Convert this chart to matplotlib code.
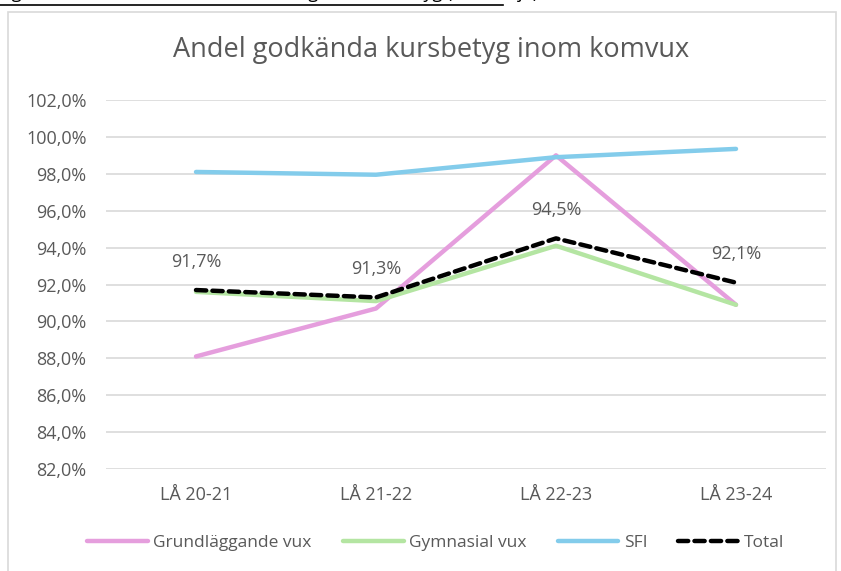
# Andel godkända kursbetyg inom komvux
import matplotlib
matplotlib.use("Agg")
import matplotlib.pyplot as plt
import matplotlib.patches as patches
from matplotlib.lines import Line2D
from matplotlib.ticker import FuncFormatter

plt.rcParams['font.family'] = ['Open Sans', 'DejaVu Sans']

# Data
years = ["LÅ 20-21", "LÅ 21-22", "LÅ 22-23", "LÅ 23-24"]
grund = [88.1, 90.7, 99.0, 90.9]
gymn = [91.6, 91.1, 94.1, 90.9]
sfi = [98.1, 97.95, 98.9, 99.35]
total = [91.7, 91.3, 94.5, 92.1]
total_labels = ["91,7%", "91,3%", "94,5%", "92,1%"]

col_grund = "#E59EDD"
col_gymn = "#B4E5A2"
col_sfi = "#83CCEB"
txt = "#595959"

W, H = 841, 571
fig = plt.figure(figsize=(W / 100, H / 100), dpi=100)

# chart frame
frame = patches.Rectangle((8 / W, -0.05), (836 - 8) / W, 1.05 - 12 / H,
                          transform=fig.transFigure, fill=False,
                          edgecolor="#D9D9D9", linewidth=1.2)
fig.patches.append(frame)

# caption above the chart, cropped by the picture edge
fig.text(-0.002, 1 + 2 / H, "Figur 16. Andel slutförda kurser med godkända betyg (svart linje)",
         fontsize=13, va="baseline", ha="left", color="black")
fig.add_artist(Line2D([0, 503 / W], [1 - 5 / H, 1 - 5 / H],
                      transform=fig.transFigure, color="black", linewidth=1.2))

ax = fig.add_axes([106 / W, 1 - 469 / H, (826 - 106) / W, (469 - 100) / H])
x = range(len(years))

ax.plot(x, grund, color=col_grund, linewidth=3.2, solid_capstyle="round", label="Grundläggande vux")
ax.plot(x, gymn, color=col_gymn, linewidth=3.2, solid_capstyle="round", label="Gymnasial vux")
ax.plot(x, sfi, color=col_sfi, linewidth=3.2, solid_capstyle="round", label="SFI")
ax.plot(x, total, color="black", linewidth=3.2, linestyle=(0, (2.3, 1.4)),
        dash_capstyle="round", label="Total")

for i, v in enumerate(total):
    ax.annotate(total_labels[i], (i, v), xytext=(0, 14), textcoords="offset points",
                ha="center", va="bottom", fontsize=13, color=txt)

ax.set_xlim(-0.5, 3.5)
ax.set_ylim(82, 102)
ax.set_yticks([82 + 2 * k for k in range(11)])
ax.yaxis.set_major_formatter(FuncFormatter(lambda v, p: f"{v:.1f}%".replace(".", ",")))
ax.set_xticks(list(x))
ax.set_xticklabels(years)
ax.tick_params(axis="both", length=0, labelsize=13, labelcolor=txt)
ax.tick_params(axis="y", pad=14)
ax.tick_params(axis="x", pad=12)
ax.grid(axis="y", color="#D9D9D9", linewidth=1.2)
ax.set_axisbelow(True)
for s in ax.spines.values():
    s.set_visible(False)

fig.text(431 / W, 1 - 50 / H, "Andel godkända kursbetyg inom komvux",
         ha="center", va="center", fontsize=19.5, color=txt)

handles, labels = ax.get_legend_handles_labels()
fig.legend(handles, labels, loc="center", bbox_to_anchor=(436 / W, 1 - 543 / H),
           ncol=4, frameon=False, fontsize=12.5, labelcolor=txt, handlelength=3.5,
           handletextpad=0.3, columnspacing=1.8)

fig.savefig("out.png", dpi=100)
